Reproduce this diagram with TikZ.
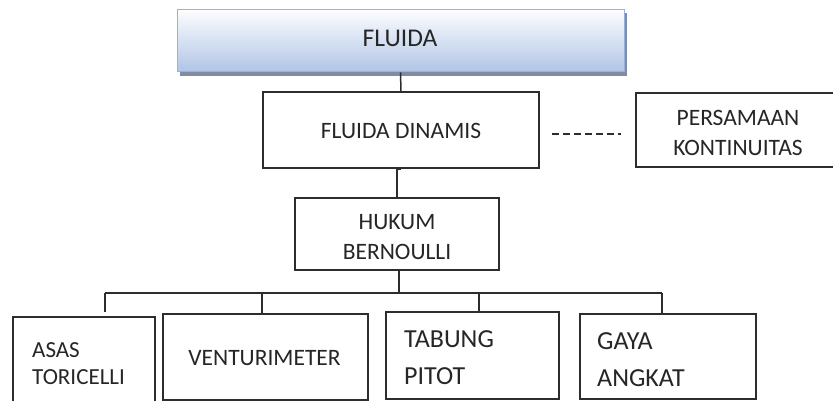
\documentclass[tikz,border=0pt]{standalone}
\usepackage{fontspec}
\setmainfont{Carlito}
\definecolor{linec}{RGB}{45,45,45}
\definecolor{topblue}{RGB}{176,196,230}
\definecolor{edgeblue}{RGB}{150,178,226}
\definecolor{shadowc}{RGB}{130,140,160}
\tikzset{
  box/.style={draw=linec, line width=1.6pt, fill=white, rectangle, inner sep=0pt},
  conn/.style={draw=linec, line width=1.5pt},
  txt/.style={font=\fontsize{23.5}{30}\selectfont, text=black!85, align=center, inner sep=0pt},
  bigtxt/.style={font=\fontsize{26}{37}\selectfont, text=black!85, align=left, inner sep=0pt, anchor=west},
}
\begin{document}
\begin{tikzpicture}[x=1pt,y=-1pt]
\useasboundingbox (0,0) rectangle (833,401);
% FLUIDA top box with shadow and gradient
\fill[shadowc] (180,13) rectangle (627,76);
\node[rectangle, draw=edgeblue, line width=1pt, top color=white!96!topblue, bottom color=topblue,
      minimum width=447pt, minimum height=62pt, inner sep=0pt] (fl) at (400.5,41) {};
\node[font=\fontsize{25.5}{30}\selectfont, text=black!85, inner sep=0pt] (flt) at (400,38) {FLUIDA};
% FLUIDA DINAMIS
\node[box, minimum width=276pt, minimum height=76pt] (fd) at (401,130) {};
\node[txt] (fdt) at (401,131) {FLUIDA DINAMIS};
% PERSAMAAN KONTINUITAS
\node[box, minimum width=204pt, minimum height=74pt] (pk) at (738,130) {};
\node[txt] (pkt) at (738,133) {PERSAMAAN\\KONTINUITAS};
% HUKUM BERNOULLI
\node[box, minimum width=204pt, minimum height=72pt] (hb) at (397,234) {};
\node[txt] (hbt) at (397,237) {HUKUM\\BERNOULLI};
% bottom boxes
\node[box, minimum width=142pt, minimum height=86pt] (at) at (84,360) {};
\node[txt, font=\fontsize{23}{27}\selectfont, align=left, anchor=west] (att) at (32,363.5) {ASAS\\TORICELLI};
\node[box, minimum width=205pt, minimum height=86pt] (vm) at (265.5,357) {};
\node[txt] (vmt) at (264.5,358) {VENTURIMETER};
\node[box, minimum width=173pt, minimum height=87pt] (tp) at (472.5,355.5) {};
\node[bigtxt] (tpt) at (404,358) {TABUNG\\PITOT};
\node[box, minimum width=176pt, minimum height=85pt] (ga) at (668,356.5) {};
\node[bigtxt] (gat) at (597,360) {GAYA\\ANGKAT};
% connectors
\draw[conn] (fl.south) -- (fd.north);
\draw[conn] (fd.south) -- (hb.south |- fd.south) -- (hb.north);
\draw[conn, dashed, dash pattern=on 7pt off 4pt] ([xshift=12pt,yshift=-4pt]fd.east) -- ([xshift=-14pt,yshift=-4pt]pk.west);
\coordinate (br) at (399,293);
\coordinate (bl) at (105,293);
\coordinate (bv) at (262,293);
\coordinate (bt) at (479,293);
\coordinate (bg) at (662,293);
\coordinate (atop) at (105,312);
\draw[conn] (hb.south -| br) -- (br);
\draw[conn] (bl) -- (bg);
\draw[conn] (bl) -- (atop);
\draw[conn] (bv) -- (vm.north -| bv);
\draw[conn] (bt) -- (tp.north -| bt);
\draw[conn] (bg) -- (ga.north -| bg);
\end{tikzpicture}
\end{document}
